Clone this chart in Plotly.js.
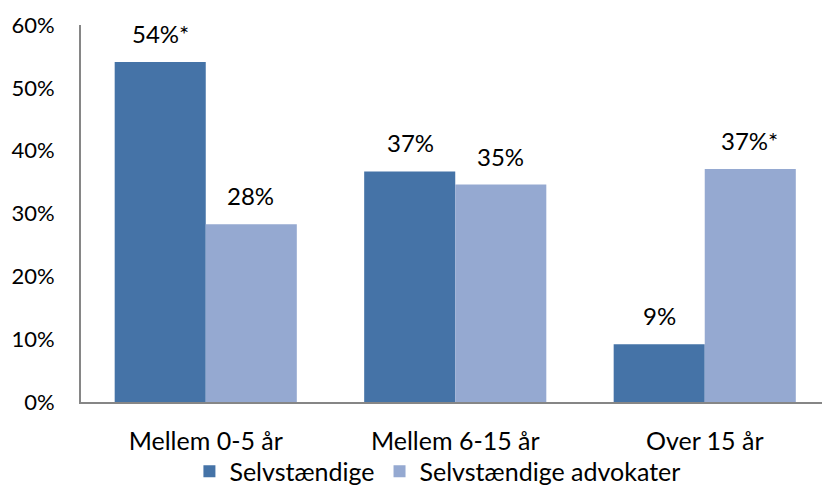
<!DOCTYPE html>
<html><head><meta charset="utf-8">
<script src="https://cdn.plot.ly/plotly-3.0.1.min.js"></script>
<style>html,body{margin:0;padding:0;overflow:hidden;background:#fff}</style>
</head><body><div id="chart" style="width:822px;height:487px"></div>
<script>
const categories = ["Mellem 0-5 år", "Mellem 6-15 år", "Over 15 år"];
const seriesNames = ["Selvstændige", "Selvstændige advokater"];
const selvstaendige = [0.541, 0.367, 0.092];
const advokater = [0.283, 0.346, 0.371];
const labelsSelv = ["54%*", "37%", "9%"];
const labelsAdv = ["28%", "35%", "37%*"];
const tickVals = [0, 0.1, 0.2, 0.3, 0.4, 0.5, 0.6];
const tickText = ["0%", "10%", "20%", "30%", "40%", "50%", "60%"];

const FONT = "Lato, 'Open Sans', sans-serif";
const colors = ["#4573a7", "#95a9d1"];

const traces = [
  {type: "bar", name: seriesNames[0], x: categories, y: selvstaendige, marker: {color: colors[0]}, hoverinfo: "none"},
  {type: "bar", name: seriesNames[1], x: categories, y: advokater, marker: {color: colors[1]}, hoverinfo: "none"}
];

const annotations = [];
categories.forEach((c, i) => {
  annotations.push({x: c, y: selvstaendige[i], text: labelsSelv[i], showarrow: false, xshift: -45, yanchor: "bottom", yshift: 12, font: {size: 24, color: "#000", family: FONT}});
  annotations.push({x: c, y: advokater[i], text: labelsAdv[i], showarrow: false, xshift: 45, yanchor: "bottom", yshift: 12, font: {size: 24, color: "#000", family: FONT}});
});

const layout = {
  width: 822, height: 487,
  margin: {l: 81, r: 0, t: 25, b: 85, autoexpand: false},
  barmode: "group", bargap: 0.27, bargroupgap: 0,
  paper_bgcolor: "#fff", plot_bgcolor: "#fff",
  font: {family: FONT, size: 22, color: "#000"},
  xaxis: {type: "category", range: [-0.5, 2.47], showline: true, linecolor: "#868686", linewidth: 2, ticks: "", showgrid: false, tickfont: {size: 25}, ticklabelstandoff: 16, automargin: false, fixedrange: true},
  yaxis: {range: [0, 0.6], tickvals: tickVals, ticktext: tickText, showline: true, linecolor: "#868686", linewidth: 2, showgrid: false, zeroline: false, ticks: "", ticklabelstandoff: 20, tickfont: {size: 22}, automargin: false, fixedrange: true},
  legend: {orientation: "h", x: 0.481, xanchor: "center", yref: "container", y: 0.032, yanchor: "middle", bgcolor: "rgba(0,0,0,0)", font: {size: 25}, itemwidth: 30, tracegroupgap: 0},
  annotations: annotations,
  showlegend: true
};
Plotly.newPlot("chart", traces, layout, {staticPlot: true, displayModeBar: false});
</script></body></html>
